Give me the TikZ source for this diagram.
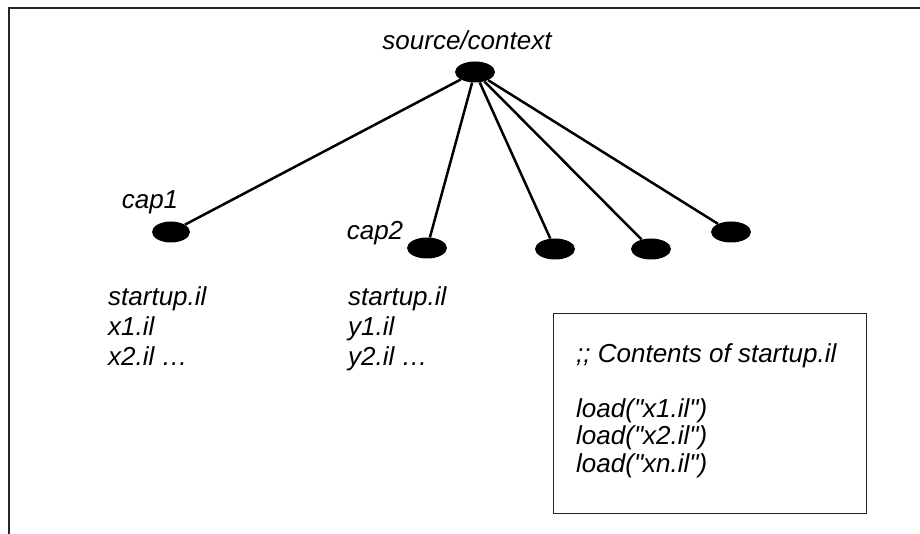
\documentclass[tikz,border=0pt]{standalone}
\usepackage{fontspec}
% a family without TeX ligatures, so " stays a straight quote
\newfontfamily\labelfont{Liberation Sans}
\usetikzlibrary{shapes.geometric}
% first-line strut: fixes the distance from a node's top to its first baseline
\newcommand{\firstline}{\rule{0pt}{20pt}}
\begin{document}
\begin{tikzpicture}[x=1pt,y=-1pt,
  dot/.style={ellipse,fill=black,draw=none,minimum width=40pt,minimum height=21pt,inner sep=0pt},
  lbl/.style={font=\labelfont\fontsize{26}{30}\selectfont\itshape,inner sep=0pt},
  listing/.style={lbl,align=left,anchor=north west},
  link/.style={line width=2.5pt},
  frame/.style={line width=2pt,draw=black!85},
  codebox/.style={draw=black!85,line width=1pt}]
  \useasboundingbox (0,0) rectangle (920,534);

  % open frame: top rule and left rule only
  \draw[frame] (920,8.5) -- (8.5,8.5) -- (8.5,534);

  % tree of dots
  \node[dot] (root) at (475,72) {};
  \node[lbl,anchor=base] (rootlbl) at (467,50) {source/context};

  \node[dot,minimum width=38pt] (cap1) at (171,232) {};
  \node[dot] (cap2) at (427,248) {};
  \node[dot] (d3) at (555,249) {};
  \node[dot] (d4) at (651,249) {};
  \node[dot] (d5) at (731,232) {};

  \node[lbl,anchor=base] (cap1lbl) at (150,209) {cap1};
  \node[lbl,anchor=base] (cap2lbl) at (375,240) {cap2};

  \foreach \n in {cap1,cap2,d3,d4,d5}
    \draw[link] (root) -- (\n);

  % file lists under the first two dots (first baseline at y = 305)
  \node[listing] (list1) at (108,285) {\firstline startup.il\\x1.il\\x2.il …};
  \node[listing] (list2) at (348,285) {\firstline startup.il\\y1.il\\y2.il …};

  % box with the contents of startup.il (first baseline at y = 362)
  \draw[codebox] (553.5,313.5) rectangle (866.5,513.5);
  \node[listing,font=\labelfont\fontsize{26}{27.5}\selectfont\itshape] (code) at (576,342)
    {\firstline ;; Contents of startup.il\\[27.5pt]load("x1.il")\\load("x2.il")\\load("xn.il")};
\end{tikzpicture}
\end{document}
